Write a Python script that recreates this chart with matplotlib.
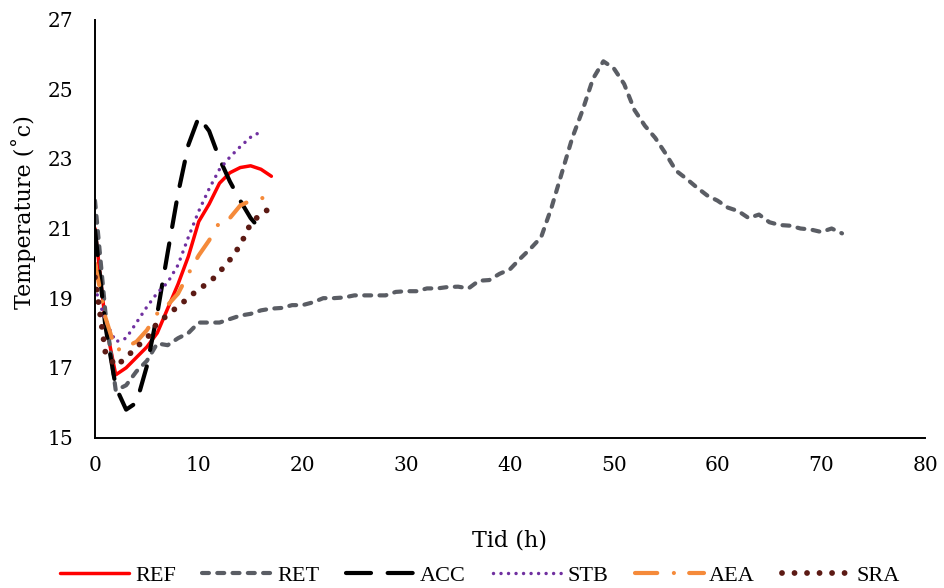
import matplotlib
matplotlib.use("Agg")
import matplotlib.pyplot as plt

# hourly readings, temperature in deg C
ref_t = list(range(0, 18))
ref = [21.0, 18.3, 16.8, 17.0, 17.3, 17.6, 18.0, 18.7, 19.4, 20.2, 21.2, 21.7,
       22.3, 22.6, 22.75, 22.8, 22.7, 22.5]

ret_t = list(range(0, 73))
ret = [21.8, 18.6, 16.35, 16.5, 16.9, 17.2, 17.7, 17.65, 17.85, 18.0, 18.3, 18.3,
       18.3, 18.4, 18.5, 18.55, 18.65, 18.7, 18.72, 18.8, 18.8, 18.88, 19.0, 19.0,
       19.02, 19.08, 19.08, 19.08, 19.08, 19.18, 19.2, 19.2, 19.28, 19.28, 19.32, 19.33,
       19.28, 19.5, 19.52, 19.7, 19.83, 20.14, 20.43, 20.75, 21.6, 22.6, 23.6, 24.4,
       25.3, 25.8, 25.6, 25.15, 24.4, 23.95, 23.6, 23.15, 22.66, 22.43, 22.18, 21.95,
       21.8, 21.6, 21.5, 21.3, 21.4, 21.18, 21.1, 21.08, 21.0, 20.97, 20.9, 21.0, 20.86]

acc_t = list(range(0, 17))
acc = [20.95, 18.2, 16.45, 15.8, 16.0, 17.05, 18.55, 20.3, 22.0, 23.4, 24.2, 23.8,
       23.0, 22.35, 21.8, 21.3, 20.95]

stb_t = list(range(0, 17))
stb = [19.3, 18.35, 17.75, 17.85, 18.3, 18.75, 19.15, 19.45, 19.95, 20.75, 21.5, 22.14,
       22.7, 23.05, 23.35, 23.62, 23.78]

aea_t = list(range(0, 18))
aea = [20.0, 18.45, 17.5, 17.6, 17.75, 18.08, 18.56, 18.8, 19.13, 19.7, 20.23, 20.66,
       21.18, 21.3, 21.66, 21.8, 21.87, 21.9]

sra_t = list(range(0, 18))
sra = [19.6, 17.45, 17.05, 17.29, 17.6, 17.84, 18.29, 18.51, 18.77, 19.0, 19.27, 19.44,
       19.75, 20.1, 20.52, 21.14, 21.42, 21.6]

xticks = [0, 10, 20, 30, 40, 50, 60, 70, 80]
yticks = [15, 17, 19, 21, 23, 25, 27]

plt.rcParams['lines.scale_dashes'] = False
plt.rcParams['font.family'] = 'DejaVu Serif'

fig = plt.figure(figsize=(9.45, 5.88), dpi=100)
ax = fig.add_axes([95 / 945, 1 - 437.5 / 588, 830 / 945, 418 / 588])

ax.plot(ref_t, ref, color='#ff0000', lw=2.5, solid_capstyle='round',
        solid_joinstyle='round', label='REF')
ax.plot(ret_t, ret, color='#5a5d64', lw=3, dashes=(5, 6), dash_capstyle='round', label='RET')
ax.plot(acc_t, acc, color='black', lw=3, dashes=(18, 12), dash_capstyle='round', label='ACC')
ax.plot(stb_t, stb, color='#7030a0', lw=2.5, dashes=(0.01, 5.4), dash_capstyle='round', label='STB')
ax.plot(aea_t, aea, color='#f58a3a', lw=3, dashes=(16, 12, 0.01, 11), dash_capstyle='round', label='AEA')
ax.plot(sra_t, sra, color='#5c1a14', lw=4.2, dashes=(0.01, 9), dash_capstyle='round', label='SRA')

ax.set_xlim(0, 80)
ax.set_ylim(15, 27)
ax.set_xticks(xticks)
ax.set_yticks(yticks)
ax.tick_params(length=0, labelsize=14.5)
ax.tick_params(axis='x', pad=13)
ax.tick_params(axis='y', pad=15.5)
for s in ['top', 'right']:
    ax.spines[s].set_visible(False)
for s in ['left', 'bottom']:
    ax.spines[s].set_linewidth(1.4)
    ax.spines[s].set_color('black')

fig.text(510 / 945, 1 - 541 / 588, 'Tid (h)', ha='center', va='center', fontsize=16)
fig.text(24 / 945, 1 - 212 / 588, 'Temperature (\u02dac)', ha='center', va='center',
         rotation=90, fontsize=16)

fig.legend(loc='center', bbox_to_anchor=(480 / 945, 1 - 576 / 588), ncol=6, frameon=False,
           prop={'family': 'Liberation Serif', 'size': 16}, handlelength=3.1,
           handletextpad=0.25, columnspacing=1.2)

fig.savefig('out.png', dpi=100)
